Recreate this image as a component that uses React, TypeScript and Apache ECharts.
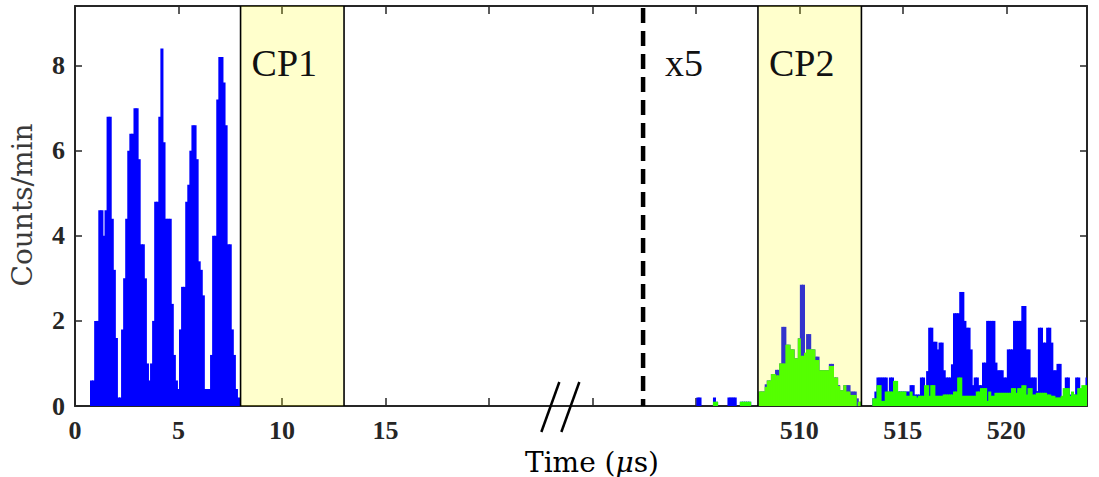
import React, { useEffect, useRef } from "react";
import * as echarts from "echarts";

// ---------- data ----------
const BIN_WIDTH = 0.1; // µs per histogram bin
const BREAK_OFFSET = 475; // µs removed by the axis break (right segment shown at t - 475)
const X_MAX_DISPLAY = 48.9;
const Y_MAX = 9.4;

// first segment (0 .. ~8 µs), bin centres from 0.8 µs
const leftStart = 0.8;
const leftCounts = [
  0.6, 0.6, 2.0, 2.0, 4.6, 4.6, 4.0, 4.6, 6.8, 6.8,
  4.4, 3.2, 1.6, 0.2, 0.2, 1.8, 3.0, 4.4, 6.0, 6.4,
  6.4, 7.0, 7.0, 5.8, 3.8, 3.8, 3.0, 1.0, 0.6, 1.0,
  2.0, 4.8, 4.8, 6.8, 8.4, 6.2, 4.4, 4.4, 4.4, 2.4,
  1.2, 0.6, 0.4, 1.8, 2.8, 2.8, 4.8, 5.2, 6.0, 6.6,
  6.6, 5.8, 3.4, 3.2, 2.6, 0.4, 0.4, 0.4, 1.2, 4.0,
  4.0, 7.2, 8.2, 8.2, 7.6, 6.6, 3.8, 3.8, 1.8, 1.2,
  0.4, 0.2,
];

// second segment (x5), bin centres from 505.0 µs
const rightStart = 505.0;
const blueCounts = [
  0, 0.2, 0.2, 0, 0, 0, 0, 0, 0, 0.2,
  0.1, 0, 0, 0, 0, 0, 0.2, 0.2, 0.2, 0.2,
  0, 0, 0.1, 0.1, 0.1, 0.1, 0.1, 0, 0, 0,
  0, 0.34, 0.34, 0.34, 0.51, 0.6, 0.6, 0.75, 0.75, 0.85,
  0.85, 1.0, 1.86, 1.86, 1.44, 1.44, 1.33, 1.33, 1.12, 1.12,
  1.59, 2.85, 2.85, 1.25, 1.69, 1.69, 1.33, 1.33, 1.16, 1.16,
  0.84, 0.84, 0.84, 0.84, 0.84, 0.99, 0.99, 0.67, 0.67, 0.49,
  0.37, 0.37, 0.49, 0.49, 0.49, 0.34, 0.34, 0.34, 0.18, 0.1,
  0, 0, 0, 0, 0, 0, 0.18, 0.34, 0.67, 0.67,
  0.67, 0.67, 0.67, 0.34, 0.67, 0.67, 0.34, 0.34, 0.34, 0.34,
  0.34, 0.34, 0.34, 0.34, 0.49, 0.49, 0.27, 0.27, 0.27, 0.67,
  0.67, 0.34, 0.82, 1.84, 1.84, 1.51, 1.51, 1.33, 1.49, 1.49,
  0.84, 0.67, 0.67, 0.67, 0.98, 2.18, 2.18, 2.18, 2.68, 2.68,
  2.0, 1.84, 1.84, 1.33, 0.49, 0.67, 0.67, 0.49, 0.49, 1.02,
  1.02, 2.0, 2.0, 2.0, 2.0, 1.02, 0.84, 0.84, 0.84, 0.67,
  0.67, 1.33, 1.33, 1.33, 2.0, 2.0, 2.0, 2.0, 2.35, 2.35,
  1.33, 1.33, 0.67, 0.67, 0.67, 0.35, 1.84, 1.84, 1.49, 1.49,
  1.84, 1.84, 1.49, 0.84, 0.84, 0.99, 0.99, 0.18, 0.18, 0.67,
  0.67, 0.27, 0.27, 0.27, 0.67, 0.67, 0.35, 0.35, 0.35, 0.67,
];
const greenCounts = [
  0, 0, 0, 0, 0, 0, 0, 0, 0, 0.1,
  0.1, 0, 0, 0, 0, 0, 0, 0, 0, 0,
  0, 0, 0.1, 0.1, 0.1, 0.1, 0.1, 0, 0, 0,
  0, 0.34, 0.34, 0.34, 0.45, 0.6, 0.6, 0.75, 0.75, 0.72,
  0.72, 1.0, 1.0, 1.0, 1.44, 1.44, 1.33, 1.33, 1.12, 1.12,
  1.59, 1.18, 1.18, 1.25, 1.33, 1.33, 1.33, 1.33, 1.08, 1.08,
  0.84, 0.84, 0.84, 0.84, 0.84, 0.94, 0.94, 0.67, 0.67, 0.47,
  0.37, 0.37, 0.49, 0.34, 0.34, 0.26, 0.26, 0.26, 0, 0.1,
  0, 0, 0, 0, 0, 0, 0.18, 0.18, 0.49, 0.49,
  0.12, 0.12, 0.34, 0.34, 0.34, 0.34, 0.59, 0.59, 0.34, 0.34,
  0.34, 0.34, 0.24, 0.24, 0.34, 0.24, 0.24, 0.2, 0.24, 0.24,
  0.24, 0.49, 0.49, 0.24, 0.49, 0.49, 0.24, 0.24, 0.24, 0.24,
  0.27, 0.27, 0.27, 0.27, 0.27, 0.34, 0.34, 0.67, 0.67, 0.24,
  0.24, 0.24, 0.24, 0.24, 0.24, 0.24, 0.34, 0.34, 0.42, 0.42,
  0.42, 0.12, 0.34, 0.24, 0.24, 0.31, 0.31, 0.31, 0.31, 0.31,
  0.31, 0.31, 0.31, 0.42, 0.42, 0.31, 0.42, 0.42, 0.49, 0.49,
  0.27, 0.42, 0.42, 0.27, 0.27, 0.31, 0.31, 0.31, 0.31, 0.31,
  0.27, 0.27, 0.24, 0.24, 0.2, 0.2, 0.2, 0.24, 0.42, 0.42,
  0.42, 0.24, 0.34, 0.27, 0.27, 0.42, 0.42, 0.49, 0.49, 0.49,
];

const leftTickLabels = [0, 5, 10, 15];
const rightTickLabels = [510, 515, 520];
const yTickLabels = [0, 2, 4, 6, 8];
const regionStarts = [8, 508];
const regionEnds = [13, 513];
const regionLabels = ["CP1", "CP2"];
const scaleMarkerTime = 502.45;
const scaleMarkerLabel = "x5";
const breakTime = 23.5;

// ---------- helpers ----------
const toDisplay = (t: number) => (t >= 100 ? t - BREAK_OFFSET : t);
const r3 = (v: number) => Math.round(v * 1000) / 1000;

const blueData: number[][] = [
  ...leftCounts.map((v, i) => [r3(leftStart + i * BIN_WIDTH), v]),
  ...blueCounts.map((v, i) => [r3(toDisplay(rightStart + i * BIN_WIDTH)), v]),
];
const greenData: number[][] = greenCounts.map((v, i) => [
  r3(toDisplay(rightStart + i * BIN_WIDTH)),
  v,
]);
const regionData = regionStarts.map((s, i) => [toDisplay(s), toDisplay(regionEnds[i])]);

const SERIF = '"Liberation Serif", "Times New Roman", serif';
const WIDE_SERIF = '"DejaVu Serif", "Liberation Serif", serif';
const AXIS_COLOR = "#262626";

const barRender = (color: string) => (params: any, api: any) => {
  const x = api.value(0);
  const v = api.value(1);
  if (!v) return { type: "group", children: [] };
  const p0 = api.coord([x - BIN_WIDTH / 2, v]);
  const p1 = api.coord([x + BIN_WIDTH / 2, 0]);
  // widen slightly so neighbouring bins overlap and no seams appear
  return {
    type: "rect",
    shape: { x: p0[0] - 0.5, y: p0[1], width: p1[0] - p0[0] + 1, height: p1[1] - p0[1] },
    style: { fill: color },
  };
};

const regionRender = (params: any, api: any) => {
  const a = api.coord([api.value(0), Y_MAX]);
  const b = api.coord([api.value(1), 0]);
  return {
    type: "group",
    children: [
      {
        type: "rect",
        shape: { x: a[0], y: a[1], width: b[0] - a[0], height: b[1] - a[1] },
        style: { fill: "rgba(255,255,0,0.2)" },
      },
      { type: "line", shape: { x1: a[0], y1: a[1], x2: a[0], y2: b[1] }, style: { stroke: "#000", lineWidth: 1.6 } },
      { type: "line", shape: { x1: b[0], y1: a[1], x2: b[0], y2: b[1] }, style: { stroke: "#000", lineWidth: 1.6 } },
      {
        type: "text",
        x: a[0] + 11,
        y: a[1] + 57,
        style: {
          text: regionLabels[params.dataIndex],
          fontSize: 38,
          fontFamily: SERIF,
          fill: "#111",
          align: "left",
          verticalAlign: "middle",
        },
      },
    ],
  };
};

const annotationRender = (params: any, api: any) => {
  const top = api.coord([toDisplay(scaleMarkerTime), Y_MAX]);
  const bot = api.coord([toDisplay(scaleMarkerTime), 0]);
  const br = api.coord([breakTime, 0]);
  return {
    type: "group",
    children: [
      {
        type: "line",
        shape: { x1: top[0], y1: top[1] + 2, x2: bot[0], y2: bot[1] },
        style: { stroke: "#000", lineWidth: 4.5, lineDash: [15, 8] },
      },
      {
        type: "text",
        x: top[0] + 22,
        y: top[1] + 57,
        style: {
          text: scaleMarkerLabel,
          fontSize: 38,
          fontFamily: SERIF,
          fill: "#111",
          align: "left",
          verticalAlign: "middle",
        },
      },
      {
        type: "line",
        shape: { x1: br[0] - 20, y1: br[1] + 26, x2: br[0] - 2, y2: br[1] - 24 },
        style: { stroke: "#000", lineWidth: 2.5 },
      },
      {
        type: "line",
        shape: { x1: br[0] + 0, y1: br[1] + 26, x2: br[0] + 18, y2: br[1] - 24 },
        style: { stroke: "#000", lineWidth: 2.5 },
      },
    ],
  };
};

const xLabelFormatter = (v: number) => {
  const d = r3(v);
  if (leftTickLabels.includes(d)) return String(d);
  if (rightTickLabels.includes(r3(d + BREAK_OFFSET))) return String(r3(d + BREAK_OFFSET));
  return "";
};
const yLabelFormatter = (v: number) => (yTickLabels.includes(r3(v)) ? String(r3(v)) : "");

const xAxisBase = {
  type: "value",
  min: 0,
  max: X_MAX_DISPLAY,
  interval: 5,
  splitLine: { show: false },
  axisLine: { show: true, onZero: false, lineStyle: { color: AXIS_COLOR, width: 2 } },
  axisTick: { show: true, inside: true, length: 8, lineStyle: { color: AXIS_COLOR, width: 1.5 } },
};
const yAxisBase = {
  type: "value",
  min: 0,
  max: Y_MAX,
  interval: 2,
  splitLine: { show: false },
  axisLine: { show: true, onZero: false, lineStyle: { color: AXIS_COLOR, width: 2 } },
  axisTick: { show: true, inside: true, length: 7, lineStyle: { color: AXIS_COLOR, width: 1.5 } },
};

const option: any = {
  animation: false,
  backgroundColor: "#ffffff",
  grid: { left: 75, right: 12, top: 6, bottom: 71, containLabel: false },
  xAxis: [
    {
      ...xAxisBase,
      position: "bottom",
      axisLabel: {
        formatter: xLabelFormatter,
        fontFamily: SERIF,
        fontWeight: "bold",
        fontSize: 26,
        color: AXIS_COLOR,
        margin: 11,
      },
    },
    { ...xAxisBase, position: "top", axisLabel: { show: false } },
  ],
  yAxis: [
    {
      ...yAxisBase,
      position: "left",
      axisLabel: {
        formatter: yLabelFormatter,
        fontFamily: SERIF,
        fontWeight: "bold",
        fontSize: 26,
        color: AXIS_COLOR,
        margin: 10,
      },
    },
    { ...yAxisBase, position: "right", axisLabel: { show: false } },
  ],
  series: [
    {
      name: "All counts",
      type: "custom",
      renderItem: barRender("#0000ff"),
      data: blueData,
      clip: true,
      z: 2,
    },
    {
      name: "Selected counts",
      type: "custom",
      renderItem: barRender("#2bff00"),
      data: greenData,
      clip: true,
      z: 3,
    },
    {
      name: "Regions",
      type: "custom",
      renderItem: regionRender,
      data: regionData,
      clip: false,
      z: 4,
    },
    {
      name: "Annotations",
      type: "custom",
      renderItem: annotationRender,
      data: [[0]],
      clip: false,
      z: 5,
    },
  ],
  graphic: [
    {
      type: "text",
      x: 592,
      y: 462,
      style: {
        text: "{n|Time (}{i|μ}{n|s)}",
        align: "center",
        verticalAlign: "middle",
        rich: {
          n: { fontSize: 28, fontFamily: WIDE_SERIF, color: "#3a3a3a" },
          i: { fontSize: 28, fontFamily: WIDE_SERIF, fontStyle: "italic", color: "#3a3a3a" },
        },
      },
    },
    {
      type: "text",
      x: 22,
      y: 205,
      rotation: Math.PI / 2,
      style: {
        text: "Counts/min",
        align: "center",
        verticalAlign: "middle",
        fontSize: 28,
        fontFamily: WIDE_SERIF,
        fill: "#3a3a3a",
      },
    },
  ],
};

export default function App() {
  const ref = useRef<HTMLDivElement>(null);
  useEffect(() => {
    if (!ref.current) return;
    const chart = echarts.init(ref.current, undefined, { renderer: "svg" });
    chart.setOption(option);
    return () => chart.dispose();
  }, []);
  return (
    <div
      ref={ref}
      style={{ position: "fixed", left: 0, top: 0, width: 1099, height: 477, background: "#fff" }}
    />
  );
}
